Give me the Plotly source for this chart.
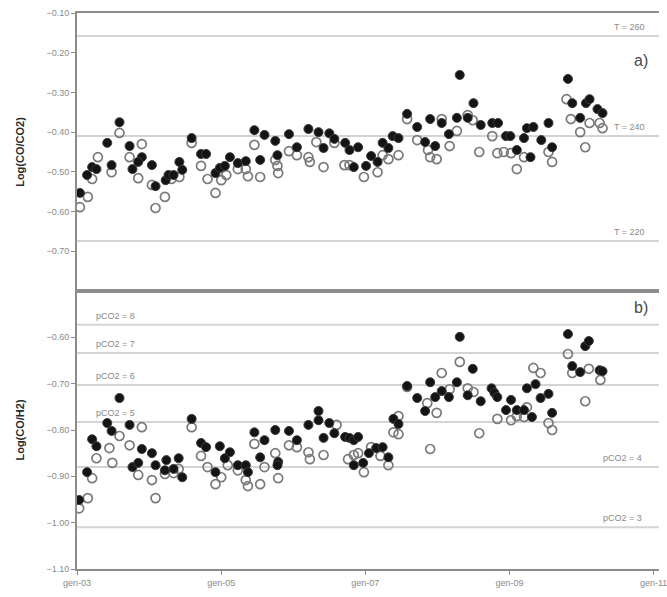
import pandas as pd
import plotly.graph_objects as go

# ---- Panel a): Log(CO/CO2) ------------------------------------------------
# decimal years
co_co2_filled_t = [2003.04, 2003.14, 2003.21, 2003.27, 2003.42, 2003.48, 2003.59, 2003.73, 2003.90, 2003.85,
                   2003.77, 2004.04, 2004.09, 2004.23, 2004.27, 2004.34, 2004.42, 2004.46, 2004.59, 2004.72,
                   2004.79, 2004.92, 2004.98, 2005.05, 2005.12, 2005.23, 2005.34, 2005.46, 2005.60, 2005.54,
                   2005.75, 2005.78, 2005.94, 2006.05, 2006.21, 2006.35, 2006.42, 2006.50, 2006.57, 2006.72,
                   2006.78, 2006.84, 2006.90, 2007.01, 2007.08, 2007.17, 2007.24, 2007.32, 2007.38, 2007.46,
                   2007.58, 2007.72, 2007.83, 2007.97, 2007.90, 2008.06, 2008.16, 2008.27, 2008.31, 2008.42,
                   2008.50, 2008.60, 2008.76, 2008.84, 2008.95, 2009.01, 2009.10, 2009.20, 2009.24, 2009.33,
                   2009.29, 2009.44, 2009.54, 2009.59, 2009.81, 2009.87, 2009.98, 2010.06, 2010.11, 2010.22,
                   2010.29]
co_co2_filled_v = [-0.553, -0.508, -0.488, -0.493, -0.427, -0.483, -0.375, -0.435, -0.463, -0.475,
                   -0.493, -0.483, -0.536, -0.521, -0.508, -0.508, -0.475, -0.495, -0.415, -0.455,
                   -0.455, -0.503, -0.490, -0.485, -0.463, -0.478, -0.473, -0.395, -0.407, -0.470,
                   -0.422, -0.458, -0.405, -0.438, -0.392, -0.400, -0.440, -0.403, -0.417, -0.427,
                   -0.445, -0.488, -0.438, -0.485, -0.460, -0.475, -0.427, -0.440, -0.410, -0.415,
                   -0.354, -0.387, -0.425, -0.435, -0.367, -0.377, -0.405, -0.364, -0.256, -0.364,
                   -0.327, -0.382, -0.377, -0.377, -0.410, -0.410, -0.445, -0.415, -0.390, -0.387,
                   -0.463, -0.420, -0.377, -0.438, -0.266, -0.327, -0.364, -0.327, -0.317, -0.342,
                   -0.352]

co_co2_open_t = [2003.04, 2003.15, 2003.21, 2003.29, 2003.48, 2003.59, 2003.73, 2003.90, 2003.85, 2004.04,
                 2004.09, 2004.22, 2004.31, 2004.42, 2004.59, 2004.72, 2004.81, 2004.92, 2005.00, 2005.07,
                 2005.23, 2005.34, 2005.37, 2005.46, 2005.54, 2005.78, 2005.79, 2005.75, 2005.94, 2006.05,
                 2006.21, 2006.23, 2006.32, 2006.42, 2006.57, 2006.71, 2006.78, 2006.98, 2007.17, 2007.24,
                 2007.32, 2007.46, 2007.58, 2007.72, 2007.87, 2007.90, 2007.99, 2008.06, 2008.17, 2008.27,
                 2008.42, 2008.49, 2008.58, 2008.76, 2008.83, 2008.92, 2009.02, 2009.10, 2009.20, 2009.54,
                 2009.59, 2009.79, 2009.85, 2009.98, 2010.05, 2010.11, 2010.25, 2010.29]
co_co2_open_v = [-0.589, -0.563, -0.518, -0.463, -0.501, -0.402, -0.463, -0.430, -0.516, -0.533,
                 -0.591, -0.563, -0.518, -0.513, -0.427, -0.485, -0.518, -0.553, -0.521, -0.508,
                 -0.493, -0.493, -0.511, -0.432, -0.513, -0.485, -0.503, -0.470, -0.448, -0.458,
                 -0.463, -0.475, -0.425, -0.488, -0.427, -0.483, -0.483, -0.513, -0.501, -0.458,
                 -0.468, -0.458, -0.367, -0.420, -0.445, -0.463, -0.468, -0.367, -0.435, -0.397,
                 -0.357, -0.370, -0.450, -0.410, -0.453, -0.450, -0.453, -0.493, -0.463, -0.450,
                 -0.475, -0.317, -0.367, -0.400, -0.438, -0.377, -0.377, -0.390]

# ---- Panel b): Log(CO/H2) -------------------------------------------------
co_h2_filled_t = [2003.03, 2003.14, 2003.21, 2003.27, 2003.42, 2003.48, 2003.59, 2003.73, 2003.77, 2003.85,
                  2003.90, 2004.04, 2004.09, 2004.22, 2004.24, 2004.34, 2004.41, 2004.46, 2004.59, 2004.72,
                  2004.79, 2004.92, 2004.98, 2005.05, 2005.12, 2005.23, 2005.34, 2005.37, 2005.46, 2005.60,
                  2005.54, 2005.75, 2005.79, 2005.78, 2005.94, 2006.05, 2006.21, 2006.35, 2006.35, 2006.42,
                  2006.50, 2006.57, 2006.72, 2006.78, 2006.84, 2006.84, 2006.90, 2006.97, 2007.05, 2007.15,
                  2007.24, 2007.32, 2007.39, 2007.46, 2007.58, 2007.72, 2007.83, 2007.90, 2007.97, 2008.06,
                  2008.16, 2008.27, 2008.31, 2008.42, 2008.49, 2008.60, 2008.75, 2008.79, 2008.83, 2008.95,
                  2009.02, 2009.10, 2009.20, 2009.31, 2009.24, 2009.36, 2009.43, 2009.54, 2009.59, 2009.81,
                  2009.87, 2009.98, 2010.05, 2010.10, 2010.25, 2010.29]
co_h2_filled_v = [-0.951, -0.891, -0.820, -0.835, -0.785, -0.802, -0.731, -0.789, -0.880, -0.871,
                  -0.841, -0.850, -0.876, -0.887, -0.865, -0.884, -0.861, -0.902, -0.776, -0.828,
                  -0.837, -0.891, -0.835, -0.861, -0.848, -0.876, -0.876, -0.891, -0.805, -0.822,
                  -0.859, -0.800, -0.869, -0.876, -0.802, -0.822, -0.789, -0.759, -0.779, -0.817,
                  -0.785, -0.807, -0.815, -0.817, -0.822, -0.876, -0.815, -0.871, -0.850, -0.839,
                  -0.837, -0.859, -0.776, -0.787, -0.705, -0.731, -0.759, -0.697, -0.729, -0.716,
                  -0.729, -0.697, -0.599, -0.725, -0.668, -0.738, -0.710, -0.720, -0.729, -0.757,
                  -0.735, -0.757, -0.757, -0.772, -0.710, -0.701, -0.731, -0.722, -0.763, -0.593,
                  -0.662, -0.675, -0.619, -0.608, -0.671, -0.673]

co_h2_open_t = [2003.03, 2003.15, 2003.21, 2003.27, 2003.45, 2003.49, 2003.59, 2003.73, 2003.90, 2003.85,
                2004.04, 2004.09, 2004.22, 2004.34, 2004.41, 2004.59, 2004.72, 2004.81, 2004.92, 2005.00,
                2005.09, 2005.23, 2005.34, 2005.37, 2005.46, 2005.54, 2005.60, 2005.75, 2005.79, 2005.94,
                2006.05, 2006.21, 2006.23, 2006.42, 2006.60, 2006.76, 2006.84, 2006.90, 2006.98, 2007.08,
                2007.21, 2007.32, 2007.39, 2007.46, 2007.46, 2007.58, 2007.86, 2007.90, 2007.99, 2008.06,
                2008.17, 2008.31, 2008.42, 2008.50, 2008.58, 2008.83, 2009.02, 2009.10, 2009.24, 2009.20,
                2009.33, 2009.43, 2009.54, 2009.59, 2009.81, 2009.87, 2010.05, 2010.10, 2010.26]
co_h2_open_v = [-0.969, -0.947, -0.904, -0.861, -0.839, -0.871, -0.813, -0.833, -0.794, -0.897,
                -0.908, -0.947, -0.895, -0.893, -0.884, -0.794, -0.856, -0.880, -0.917, -0.902,
                -0.876, -0.887, -0.908, -0.921, -0.830, -0.917, -0.880, -0.850, -0.904, -0.833,
                -0.837, -0.848, -0.863, -0.854, -0.789, -0.863, -0.854, -0.850, -0.891, -0.837,
                -0.856, -0.876, -0.805, -0.809, -0.770, -0.707, -0.742, -0.841, -0.763, -0.677,
                -0.712, -0.653, -0.710, -0.718, -0.807, -0.776, -0.779, -0.770, -0.751, -0.772,
                -0.666, -0.677, -0.785, -0.800, -0.636, -0.677, -0.738, -0.668, -0.692]

# ---- Reference levels ------------------------------------------------------
temp_labels = ["T = 260", "T = 240", "T = 220"]
temp_levels = [-0.158, -0.410, -0.674]

pco2_labels = ["pCO2 = 8", "pCO2 = 7", "pCO2 = 6", "pCO2 = 5", "pCO2 = 4", "pCO2 = 3"]
pco2_levels = [-0.573, -0.634, -0.703, -0.783, -0.880, -1.010]
pco2_side = ["left", "left", "left", "left", "right", "right"]

x_tick_dates = ["2003-01-01", "2005-01-01", "2007-01-01", "2009-01-01", "2011-01-01"]
x_tick_text = ["gen-03", "gen-05", "gen-07", "gen-09", "gen-11"]
y_top_ticks = [-0.10, -0.20, -0.30, -0.40, -0.50, -0.60, -0.70]
y_bot_ticks = [-0.60, -0.70, -0.80, -0.90, -1.00, -1.10]


def to_dates(decimal_years):
    out = []
    for d in decimal_years:
        year = int(d)
        start = pd.Timestamp(year=year, month=1, day=1)
        end = pd.Timestamp(year=year + 1, month=1, day=1)
        out.append(start + (end - start) * (d - year))
    return out


FONT = "Liberation Sans, Arial, sans-serif"
GRID = "#d4d4d4"
AXIS = "#8c8c8c"
TXT = "#8a8a8a"

filled_marker = dict(symbol="circle", size=9, color="#141414", line=dict(color="#3a3a3a", width=1))
open_marker = dict(symbol="circle-open", size=9, color="#7a7a7a", line=dict(color="#7a7a7a", width=1.7))

fig = go.Figure()
fig.add_trace(go.Scatter(x=to_dates(co_co2_open_t), y=co_co2_open_v, mode="markers",
                         marker=open_marker, xaxis="x2", yaxis="y2", showlegend=False))
fig.add_trace(go.Scatter(x=to_dates(co_co2_filled_t), y=co_co2_filled_v, mode="markers",
                         marker=filled_marker, xaxis="x2", yaxis="y2", showlegend=False))
fig.add_trace(go.Scatter(x=to_dates(co_h2_open_t), y=co_h2_open_v, mode="markers",
                         marker=open_marker, xaxis="x", yaxis="y", showlegend=False))
fig.add_trace(go.Scatter(x=to_dates(co_h2_filled_t), y=co_h2_filled_v, mode="markers",
                         marker=filled_marker, xaxis="x", yaxis="y", showlegend=False))

shapes = []
annotations = []
for lab, lev in zip(temp_labels, temp_levels):
    shapes.append(dict(type="line", xref="x2 domain", yref="y2", x0=0, x1=1, y0=lev, y1=lev,
                       line=dict(color=GRID, width=2), layer="below"))
    annotations.append(dict(text=lab, xref="x2 domain", yref="y2", x=0.98, y=lev, xanchor="right",
                            yanchor="bottom", yshift=2, showarrow=False,
                            font=dict(family=FONT, size=9, color=TXT)))
for lab, lev, side in zip(pco2_labels, pco2_levels, pco2_side):
    shapes.append(dict(type="line", xref="x domain", yref="y", x0=0, x1=1, y0=lev, y1=lev,
                       line=dict(color=GRID, width=2), layer="below"))
    annotations.append(dict(text=lab, xref="x domain", yref="y",
                            x=0.03 if side == "left" else 0.975, y=lev,
                            xanchor="left" if side == "left" else "right",
                            yanchor="bottom", yshift=2, showarrow=False,
                            font=dict(family=FONT, size=9, color=TXT)))

annotations.append(dict(text="a)", xref="x2 domain", yref="y2 domain", x=0.985, y=0.83,
                        xanchor="right", yanchor="middle", showarrow=False,
                        font=dict(family=FONT, size=16, color="#4a4a4a")))
annotations.append(dict(text="b)", xref="x domain", yref="y domain", x=0.985, y=0.94,
                        xanchor="right", yanchor="middle", showarrow=False,
                        font=dict(family=FONT, size=16, color="#4a4a4a")))

x_range = ["2003-01-01", "2011-01-28"]
common_x = dict(range=x_range, type="date", showgrid=False, zeroline=False,
                showline=True, linecolor=AXIS, linewidth=2, mirror=True)
common_y = dict(showgrid=False, zeroline=False, showline=True, linecolor=AXIS, linewidth=2,
                ticks="outside", ticklen=4, tickcolor=AXIS, tickformat=".2f",
                tickfont=dict(family=FONT, size=9, color=TXT))
title_font = dict(family=FONT, size=11, color="#2a2a2a", weight="bold")

fig.update_layout(
    width=667, height=597,
    margin=dict(l=77, r=0, t=13, b=28),
    paper_bgcolor="white", plot_bgcolor="white",
    shapes=shapes, annotations=annotations,
    xaxis=dict(**common_x, anchor="y", tickvals=x_tick_dates, ticktext=x_tick_text,
               ticks="outside", ticklen=4, tickcolor=AXIS, ticklabeloverflow="allow",
               tickfont=dict(family=FONT, size=9, color=TXT)),
    xaxis2=dict(**common_x, anchor="y2", matches="x", showticklabels=False, ticks=""),
    yaxis=dict(**common_y, domain=[0, 0.5], range=[-1.10, -0.50], tickvals=y_bot_ticks,
               title=dict(text="Log(CO/H2)", standoff=20, font=title_font), anchor="x"),
    yaxis2=dict(**common_y, domain=[0.5, 1], range=[-0.80, -0.10], tickvals=y_top_ticks,
                title=dict(text="Log(CO/CO2)", standoff=20, font=title_font), anchor="x2"),
)

fig.write_html("out.html")
